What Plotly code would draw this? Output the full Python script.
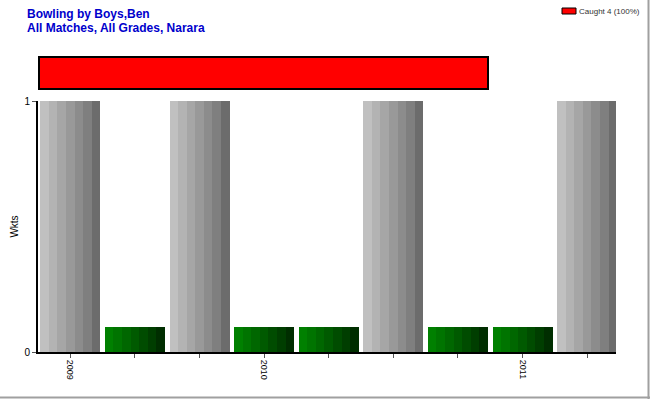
import plotly.graph_objects as go

# ---- data ----
match_index = [0, 1, 2, 3, 4, 5, 6, 7, 8]
wickets = [1, 0, 1, 0, 0, 1, 0, 0, 1]
bar_heights = [1, 0.1, 1, 0.1, 0.1, 1, 0.1, 0.1, 1]   # zero-wicket matches drawn as a short green bar
tick_labels = ["2009", "", "", "2010", "", "", "", "2011", ""]
dismissal_types = ["Caught"]
dismissal_counts = [4]
dismissal_labels = ["Caught 4 (100%)"]

gray_shades = ["#c0c0c0", "#b3b3b3", "#a6a6a6", "#999999", "#8c8c8c", "#7f7f7f", "#6c6c6c"]
green_shades = ["#008000", "#007400", "#006700", "#005a00", "#004c00", "#003e00", "#002e00"]

W = 0.929
n = len(gray_shades)
sw = W / n

fig = go.Figure()
for k in range(n):
    colors = [gray_shades[k] if w > 0 else green_shades[k] for w in wickets]
    fig.add_trace(go.Bar(
        x=match_index, y=bar_heights, width=[sw] * len(match_index),
        offset=-W / 2 + k * sw, marker=dict(color=colors, line=dict(width=0)),
        showlegend=False, hoverinfo="skip", xaxis="x", yaxis="y"))

fig.add_trace(go.Bar(
    x=dismissal_counts, y=[0], orientation="h", width=1, base=0,
    marker=dict(color="#ff0000", line=dict(color="#000000", width=2)),
    name=dismissal_labels[0], showlegend=False, xaxis="x2", yaxis="y2"))

L, R, T, B = 38, 34, 55, 48
plot_w = 650 - L - R
plot_h = 400 - T - B
main_top = 251 / plot_h


def px(xp):
    return (xp - L) / plot_w


def py(yp):
    return (400 - B - yp) / plot_h


fig.update_layout(
    width=650, height=400,
    margin=dict(l=L, r=R, t=T, b=B),
    paper_bgcolor="white", plot_bgcolor="white",
    bargap=0, barmode="overlay", showlegend=False,
    font=dict(family="Liberation Sans, Arial", size=10, color="#000000"),
    xaxis=dict(range=[-0.5, 8.447], tickmode="array", tickvals=match_index, ticktext=tick_labels,
               tickangle=90, ticks="outside", ticklen=4, tickcolor="#555555",
               tickfont=dict(size=9), showgrid=False, zeroline=False, automargin=False,
               showline=True, linecolor="#000000", linewidth=2, anchor="y", fixedrange=True),
    yaxis=dict(domain=[0, main_top], range=[0, 1], tickmode="array", tickvals=[0, 1],
               ticktext=["0", "1"], ticks="outside", ticklen=4, tickcolor="#555555",
               showgrid=True, gridcolor="#999999", griddash="dash", gridwidth=1,
               zeroline=False, showline=True, linecolor="#000000", linewidth=2, automargin=False,
               title=dict(text="Wkts", font=dict(size=10), standoff=4), anchor="x"),
    xaxis2=dict(range=[-0.0089, 5.14], visible=False, anchor="y2", domain=[0, 1]),
    yaxis2=dict(range=[-0.5625, 0.5625], visible=False, anchor="x2",
                domain=[py(91), 1.0]),
    annotations=[
        dict(text="<b>Bowling by Boys,Ben</b>", xref="paper", yref="paper",
             x=px(25), y=py(5), xanchor="left", yanchor="top",
             showarrow=False, font=dict(size=12, color="#0000cc")),
        dict(text="<b>All Matches, All Grades, Narara</b>", xref="paper", yref="paper",
             x=px(25), y=py(19), xanchor="left", yanchor="top",
             showarrow=False, font=dict(size=12, color="#0000cc")),
        dict(text=dismissal_labels[0], xref="paper", yref="paper",
             x=px(577), y=py(11), xanchor="left", yanchor="middle",
             showarrow=False, font=dict(size=8, color="#333333")),
    ],
    shapes=[
        dict(type="rect", xref="paper", yref="paper", x0=px(562), x1=px(576),
             y0=py(14), y1=py(8), fillcolor="#ff0000", line=dict(color="#000000", width=1)),
        dict(type="line", xref="paper", yref="paper", x0=px(648.5), x1=px(648.5),
             y0=py(399), y1=py(0), line=dict(color="#a0a0a0", width=2)),
        dict(type="line", xref="paper", yref="paper", x0=px(0), x1=px(650),
             y0=py(397.5), y1=py(397.5), line=dict(color="#a0a0a0", width=2)),
    ],
)

fig.write_html("out.html", config={"displayModeBar": False},
               post_script="document.body.style.margin='0';")
